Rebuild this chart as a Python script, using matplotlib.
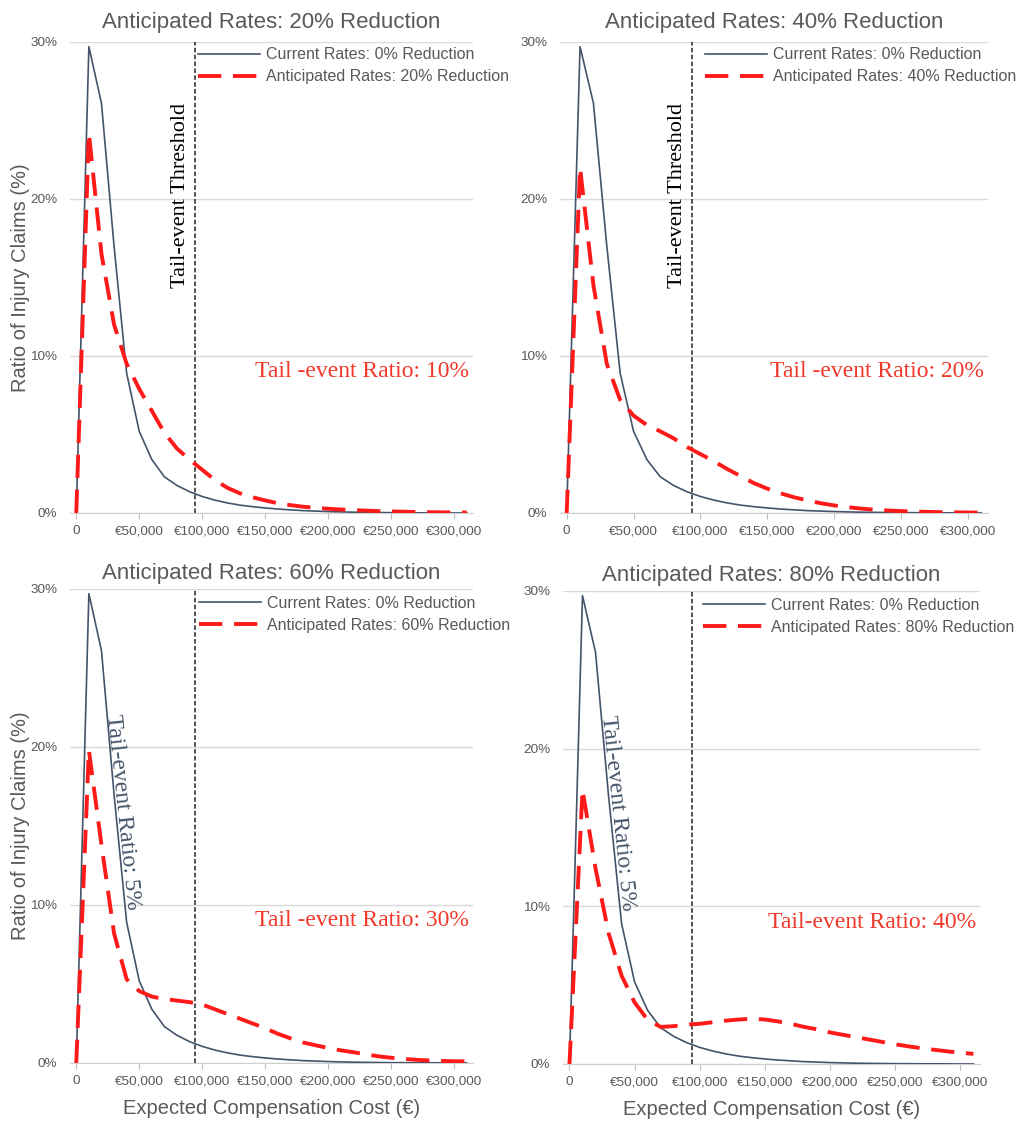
import matplotlib.pyplot as plt

# expected compensation cost (EUR), one point every 10,000
cost = [0, 10000, 20000, 30000, 40000, 50000, 60000, 70000, 80000, 90000,
        100000, 110000, 120000, 130000, 140000, 150000, 160000, 170000, 180000, 190000,
        200000, 210000, 220000, 230000, 240000, 250000, 260000, 270000, 280000, 290000,
        300000, 310000]

# ratio of injury claims (%), current rates
current = [0, 29.7, 26.1, 17.0, 8.9, 5.2, 3.4, 2.3, 1.75, 1.35,
           1.05, 0.82, 0.64, 0.5, 0.4, 0.32, 0.25, 0.2, 0.15, 0.12,
           0.09, 0.07, 0.05, 0.04, 0.03, 0.02, 0.02, 0.01, 0.01, 0.01,
           0.0, 0.0]

# anticipated rates
red_20 = [0, 24.2, 16.5, 12.0, 9.5, 7.9, 6.5, 5.1, 4.1, 3.4,
          2.75, 2.1, 1.6, 1.25, 1.0, 0.8, 0.62, 0.5, 0.4, 0.33,
          0.27, 0.22, 0.18, 0.15, 0.12, 0.1, 0.08, 0.06, 0.05, 0.04,
          0.03, 0.03]
red_40 = [0, 22.0, 14.5, 9.5, 7.2, 6.2, 5.6, 5.2, 4.75, 4.2,
          3.75, 3.3, 2.8, 2.35, 1.9, 1.55, 1.25, 1.0, 0.8, 0.62,
          0.48, 0.37, 0.28, 0.21, 0.16, 0.12, 0.09, 0.07, 0.05, 0.04,
          0.03, 0.02]
red_60 = [0, 19.8, 13.8, 8.2, 5.3, 4.55, 4.2, 4.05, 3.95, 3.85,
          3.7, 3.4, 3.1, 2.8, 2.5, 2.2, 1.85, 1.56, 1.3, 1.12,
          0.95, 0.8, 0.68, 0.55, 0.42, 0.33, 0.26, 0.2, 0.16, 0.13,
          0.11, 0.1]
red_80 = [0, 17.4, 12.4, 8.3, 5.6, 3.9, 2.8, 2.35, 2.4, 2.5,
          2.55, 2.65, 2.75, 2.82, 2.87, 2.82, 2.7, 2.55, 2.35, 2.2,
          2.0, 1.85, 1.7, 1.55, 1.4, 1.25, 1.12, 1.0, 0.9, 0.8,
          0.72, 0.64]

reductions = [20, 40, 60, 80]
anticipated = [red_20, red_40, red_60, red_80]
tail_ratio_labels = ['Tail -event Ratio: 10%', 'Tail -event Ratio: 20%',
                     'Tail -event Ratio: 30%', 'Tail-event Ratio: 40%']
current_ratio_label = 'Tail-event Ratio: 5%'
threshold = 94000

xticks = [0, 50000, 100000, 150000, 200000, 250000, 300000]
xtick_labels = ['0', '€50,000', '€100,000', '€150,000', '€200,000', '€250,000', '€300,000']
yticks = [0, 10, 20, 30]
ytick_labels = ['0%', '10%', '20%', '30%']

gray = '#595959'
blue = '#44546A'
red = '#FF1A1A'
red_text = '#F0392B'
sans = ['Liberation Sans', 'DejaVu Sans']
serif = ['Liberation Serif', 'DejaVu Serif']

plt.rcParams['font.family'] = sans

fig = plt.figure(figsize=(10.23, 11.22), dpi=100)

# axes boxes [left, bottom, width, height], legend anchor, title pad
panels = [
    ([0.0684, 0.5428, 0.3940, 0.4198], (0.318, 0.989), 10),
    ([0.5474, 0.5428, 0.4184, 0.4198], (0.339, 0.989), 10),
    ([0.0684, 0.0526, 0.3940, 0.4225], (0.320, 0.986), 7),
    ([0.5503, 0.0517, 0.4076, 0.4216], (0.336, 0.986), 7),
]

for i, (box, anchor, pad) in enumerate(panels):
    ax = fig.add_axes(box)
    ax.plot(cost, current, color=blue, lw=1.2, label='Current Rates: 0% Reduction', zorder=3)
    ax.plot(cost, anticipated[i], color=red, lw=2.8, linestyle=(0, (6, 3)),
            label=f'Anticipated Rates: {reductions[i]}% Reduction', zorder=4)
    ax.axvline(threshold, color='#222222', lw=1.1, linestyle=(0, (3, 1.5)), zorder=2)

    ax.set_xlim(-5000, 315000)
    ax.set_ylim(0, 30)
    ax.set_xticks(xticks)
    ax.set_xticklabels(xtick_labels)
    ax.set_yticks(yticks)
    ax.set_yticklabels(ytick_labels)
    ax.grid(axis='y', color='#D9D9D9', lw=1)
    ax.set_axisbelow(True)
    for side in ['top', 'right', 'left']:
        ax.spines[side].set_visible(False)
    ax.spines['bottom'].set_color('#D0D0D0')
    ax.tick_params(axis='x', length=4, color='#BFBFBF', labelsize=9.7, labelcolor=gray, pad=5)
    ax.tick_params(axis='y', length=0, labelsize=9.7, labelcolor=gray, pad=9)

    ax.set_title(f'Anticipated Rates: {reductions[i]}% Reduction', fontsize=16, color=gray, pad=pad)

    leg = ax.legend(loc='upper left', bbox_to_anchor=anchor, frameon=False, fontsize=11.5,
                    handlelength=3.9, handletextpad=0.35, labelspacing=0.44,
                    borderpad=0, borderaxespad=0)
    for t in leg.get_texts():
        t.set_color(gray)

    ax.text(312000, 9.0, tail_ratio_labels[i], color=red_text, fontsize=17,
            family=serif, ha='right', va='center')

    if i < 2:
        ax.text(83000, 20.2, 'Tail-event Threshold', rotation=90, fontsize=16,
                family=serif, color='black', ha='center', va='center')
    else:
        ax.text(37000, 15.9, current_ratio_label, rotation=-84, fontsize=17,
                family=serif, color=blue, ha='center', va='center')
        ax.set_xlabel('Expected Compensation Cost (€)', fontsize=14.5, color=gray, labelpad=8)

    if i % 2 == 0:
        ax.set_ylabel('Ratio of Injury Claims (%)', fontsize=14.5, color=gray)
        ax.yaxis.set_label_coords(-0.1, 0.5)

fig.savefig('out.png', dpi=100)
